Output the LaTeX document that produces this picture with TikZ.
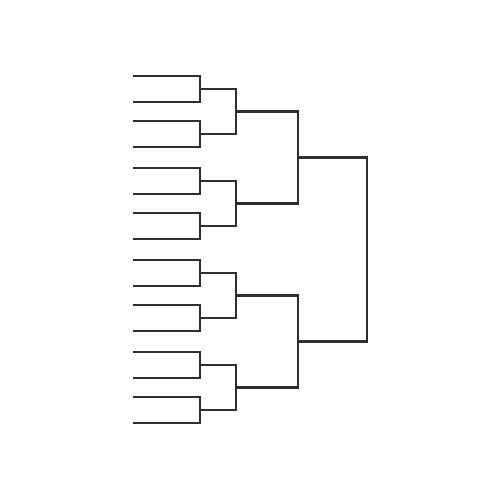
\documentclass[tikz,border=0pt]{standalone}
\usepackage{tikz}
\usetikzlibrary{calc}

\tikzset{
  bracket/.style={draw=black!82,line width=1.3pt,line join=miter},
}

\begin{document}
\begin{tikzpicture}[x=0.02cm,y=-0.02cm]
          \fill[white] (0,0) rectangle (500,500);
          \useasboundingbox (0,0) rectangle (500,500);
          % columns of the rounds
          \coordinate (x1) at (200,0);
          \coordinate (x2) at (236,0);
          \coordinate (x3) at (298,0);
          \coordinate (x4) at (367,0);
          % entry lines
          \foreach \y [count=\i] in {76,102,121,147,168,194,213,239,260,286,305,331,352,378,397,423}
            \coordinate (e\i) at (133,\y);
          % first round
          \foreach \a/\b/\n in {1/2/1,3/4/2,5/6/3,7/8/4,9/10/5,11/12/6,13/14/7,15/16/8} {
            \draw[bracket] (e\a) -- (e\a -| x1) -- (e\b -| x1) -- (e\b);
            \coordinate (m\n) at ($(e\a -| x1)!0.5!(e\b -| x1)$);
          }
          % second round
          \foreach \a/\b/\n in {1/2/1,3/4/2,5/6/3,7/8/4} {
            \draw[bracket] (m\a) -- (m\a -| x2) -- (m\b -| x2) -- (m\b);
            \coordinate (p\n) at ($(m\a -| x2)!0.5!(m\b -| x2)$);
          }
          % semi finals
          \foreach \a/\b/\n in {1/2/1,3/4/2} {
            \draw[bracket] (p\a) -- (p\a -| x3) -- (p\b -| x3) -- (p\b);
            \coordinate (s\n) at ($(p\a -| x3)!0.5!(p\b -| x3)$);
          }
          % final
          \draw[bracket] (s1) -- (s1 -| x4) -- (s2 -| x4) -- (s2);
        \end{tikzpicture}
\end{document}
